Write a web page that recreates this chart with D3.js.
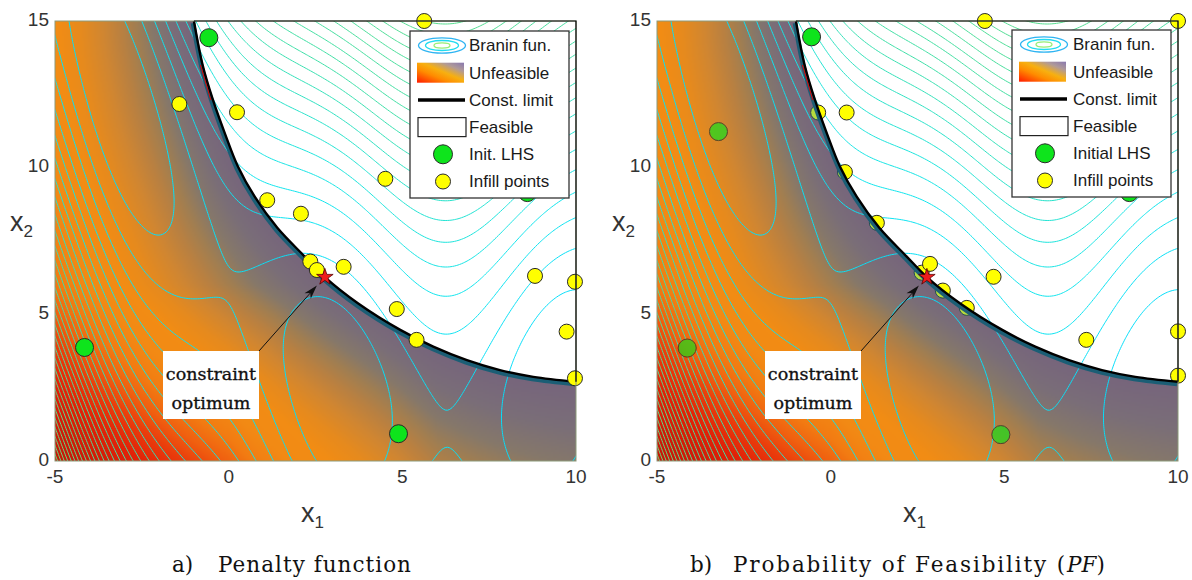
<!DOCTYPE html>
<html><head><meta charset="utf-8">
<script src="https://cdn.jsdelivr.net/npm/d3@7"></script>
<style>body{margin:0;background:#fff;} svg{display:block;}</style>
</head><body>
<svg id="chart" width="1192" height="580"></svg>
<script>
// ---------------- data ----------------
const xTickValues = [-5, 0, 5, 10];
const yTickValues = [0, 5, 10, 15];
const contourLevels = [10,20,30,40,50,60,70,80,90,100,110,120,130,140,150,160,170,180,190,200,210,220,230,240,250,260,270,280,290,300];
// constraint limit curve (x1, x2)
const constraintX1 = [-1.0, -0.75, -0.45, -0.11, 0.27, 0.75, 1.4, 2.19, 2.77, 3.72, 4.94, 5.89, 6.86, 7.81, 8.77, 10.0];
const constraintX2 = [15.0, 13.5, 12.3, 11.17, 10.03, 9.01, 7.95, 6.97, 6.27, 5.38, 4.47, 3.9, 3.44, 3.10, 2.87, 2.70];
const constrainedOptimum = [2.77, 6.27];
// panel a) Penalty function
const initA = [[-0.57, 14.43], [-4.15, 3.87], [4.89, 0.93], [8.6, 9.15]];
const infillA = [[5.63, 15.0], [-1.42, 12.17], [0.24, 11.89], [4.51, 9.62], [1.11, 8.89], [2.08, 8.43],
  [2.35, 6.80], [2.54, 6.51], [3.31, 6.62], [4.84, 5.18], [5.41, 4.13], [8.82, 6.31], [9.97, 6.11], [9.73, 4.41], [9.97, 2.82]];
// panel b) Probability of Feasibility
const initB = [[-0.55, 14.46], [-3.23, 11.23], [-4.13, 3.85], [4.9, 0.9], [8.6, 9.15]];
const infillB = [[4.44, 15.0], [10.0, 15.0], [-0.36, 11.88], [0.46, 11.88], [0.41, 9.85], [1.33, 8.12],
  [2.62, 6.42], [2.86, 6.72], [3.23, 5.81], [3.92, 5.22], [4.69, 6.28], [7.36, 4.13], [10.0, 4.42], [10.0, 2.91]];
const legendLabelsA = ["Branin fun.", "Unfeasible", "Const. limit", "Feasible", "Init. LHS", "Infill points"];
const legendLabelsB = ["Branin fun.", "Unfeasible", "Const. limit", "Feasible", "Initial LHS", "Infill points"];
const annotationLines = ["constraint", "optimum"];
const captionA = ["a)", "Penalty function"];
const captionB = ["b)", "Probability of Feasibility (", "PF", ")"];

// Branin function (the plotted objective)
function branin(x1, x2) {
  const b = 5.1 / (4 * Math.PI * Math.PI), c = 5 / Math.PI, r = 6, s = 10, t = 1 / (8 * Math.PI);
  const u = x2 - b * x1 * x1 + c * x1 - r;
  return u * u + s * (1 - t) * Math.cos(x1) + s;
}

// ---------------- layout / style ----------------
const svg = d3.select('#chart');
const defs = svg.append('defs');
const TOP = 21, BOTTOM = 461;
const panels = [
  {key: 'a', left: 55, right: 576, init: initA, infill: infillA, tinted: false, legendX: 410, legendY: 31, textDx: 59, labels: legendLabelsA},
  {key: 'b', left: 657, right: 1178, init: initB, infill: infillB, tinted: true, legendX: 1012, legendY: 30, textDx: 61, labels: legendLabelsB}
];
const shadeStops = [[0,'#76647c'],[0.6,'#7a6e78'],[1.1,'#86786a'],[1.5,'#a07e52'],[1.9,'#b88042'],[2.4,'#d08632'],
  [3.0,'#e68a1e'],[3.6,'#f28c14'],[4.4,'#f28a14'],[5.1,'#f27c12'],[5.7,'#f06010'],[6.3,'#ea3c0c'],[7.0,'#e22208'],[8.0,'#cc1808'],[9.5,'#b01406']];
const tintStops = [[0,'#1a90c0'],[0.6,'#3a98a8'],[1.1,'#86786a']].concat(shadeStops.slice(3));
const shadeScale = d3.scaleLinear().domain(shadeStops.map(s => s[0])).range(shadeStops.map(s => s[1])).clamp(true);
const tintScale = d3.scaleLinear().domain(tintStops.map(s => s[0])).range(tintStops.map(s => s[1])).clamp(true);
const contourColor = d3.scaleLinear().domain([0, 40, 120, 300]).range(['#00dcff', '#12e6ee', '#3ee0a8', '#70dc78']);
const GREEN = '#0ee41c', YELLOW = '#ffff00';

const constraintPts = constraintX1.map((x, i) => [x, constraintX2[i]]);

// Branin grid for contours (slightly extended beyond the domain, then clipped)
const g0x = -5.5, g0y = -0.5, gn = 241, gstep = 16 / (gn - 1);
const gridVals = new Float64Array(gn * gn);
for (let j = 0; j < gn; j++) for (let i = 0; i < gn; i++) gridVals[i + j * gn] = branin(g0x + i * gstep, g0y + j * gstep);
const contourSet = d3.contours().size([gn, gn]).thresholds(contourLevels)(gridVals);

// legend gradient
const lg = defs.append('linearGradient').attr('id', 'legGrad').attr('x1', 0).attr('y1', 1).attr('x2', 1).attr('y2', 0);
[[0,'#ff1a00'],[0.35,'#ff8c00'],[0.55,'#f7b010'],[0.78,'#b09a98'],[1,'#8878b0']].forEach(s => lg.append('stop').attr('offset', s[0]).attr('stop-color', s[1]));

let shadeURL = null, tintURL = null;

// shading of the unfeasible side: grows with the distance from the constraint limit
function buildShade(xs, ys, curveNode, left, w, h) {
  const len = curveNode.getTotalLength();
  const samples = [];
  for (let l = 0; l <= len; l += 2) {
    const p = curveNode.getPointAtLength(l);
    samples.push([xs.invert(p.x), ys.invert(p.y)]);
  }
  const cell = 2, cw = Math.ceil(w / cell), ch = Math.ceil(h / cell);
  const mk = (scale) => {
    const cv = document.createElement('canvas'); cv.width = cw; cv.height = ch;
    const ctx = cv.getContext('2d');
    return {cv, ctx, img: ctx.createImageData(cw, ch), scale};
  };
  const A = mk(shadeScale), B = mk(tintScale);
  const wy = 0.55;
  for (let j = 0; j < ch; j++) {
    const x2 = ys.invert(TOP + (j + 0.5) * cell);
    for (let i = 0; i < cw; i++) {
      const x1 = xs.invert(left + (i + 0.5) * cell);
      let best = 1e9;
      for (let k = 0; k < samples.length; k++) {
        const dx = x1 - samples[k][0], dy = (x2 - samples[k][1]) * wy;
        const dd = dx * dx + dy * dy;
        if (dd < best) best = dd;
      }
      const boost = 1.6 * Math.max(0, 1 - x2 / 6) * Math.min(1, Math.max(0, (6 - x1) / 6));
      const right = x1 > 5 ? 1 - 0.05 * (x1 - 5) : 1;
      const v = (Math.sqrt(best) * 0.92 + boost) * right;
      const idx = (i + j * cw) * 4;
      [A, B].forEach(o => {
        const c = d3.rgb(o.scale(v));
        o.img.data[idx] = c.r; o.img.data[idx + 1] = c.g; o.img.data[idx + 2] = c.b; o.img.data[idx + 3] = 255;
      });
    }
  }
  A.ctx.putImageData(A.img, 0, 0); B.ctx.putImageData(B.img, 0, 0);
  return [A.cv.toDataURL(), B.cv.toDataURL()];
}

function arrow(g, x1, y1, x2, y2) {
  const ang = Math.atan2(y2 - y1, x2 - x1);
  const L = 14, Wd = 4.2, N = 10;
  g.append('line').attr('x1', x1).attr('y1', y1)
    .attr('x2', x2 - N * Math.cos(ang)).attr('y2', y2 - N * Math.sin(ang))
    .attr('stroke', '#111').attr('stroke-width', 1);
  const pts = [[0, 0], [-L, -Wd], [-N, 0], [-L, Wd]].map(([u, v]) =>
    [x2 + u * Math.cos(ang) - v * Math.sin(ang), y2 + u * Math.sin(ang) + v * Math.cos(ang)]);
  g.append('path').attr('d', 'M' + pts.join('L') + 'Z').attr('fill', '#111');
}

panels.forEach(P => {
  const w = P.right - P.left, h = BOTTOM - TOP;
  const xs = d3.scaleLinear().domain([-5, 10]).range([P.left, P.right]);
  const ys = d3.scaleLinear().domain([0, 15]).range([BOTTOM, TOP]);
  const line = d3.line().x(d => xs(d[0])).y(d => ys(d[1])).curve(d3.curveCatmullRom.alpha(0.5));
  const curveD = line(constraintPts);
  const last = constraintPts[constraintPts.length - 1];
  const polyD = curveD + `L${xs(last[0])},${ys(0)}L${xs(-5)},${ys(0)}L${xs(-5)},${ys(15)}Z`;

  defs.append('clipPath').attr('id', 'unf-' + P.key).append('path').attr('d', polyD);
  defs.append('clipPath').attr('id', 'plot-' + P.key).append('rect')
    .attr('x', P.left).attr('y', TOP).attr('width', w).attr('height', h);

  const G = svg.append('g');
  const gShade = G.append('g');
  const gCont = G.append('g').attr('clip-path', `url(#plot-${P.key})`);
  const gPts1 = G.append('g');
  const gTint = G.append('g');
  const gCurve = G.append('g');
  const gPts2 = G.append('g');
  const gFrame = G.append('g');
  const gAnn = G.append('g');
  const gLeg = G.append('g');

  // constraint curve
  gCurve.append('path').attr('d', curveD).attr('fill', 'none').attr('stroke', '#1b5e75')
    .attr('stroke-width', 4.5).attr('transform', 'translate(-1,2.2)');
  const blackCurve = gCurve.append('path').attr('d', curveD).attr('fill', 'none')
    .attr('stroke', '#000').attr('stroke-width', 2.4);
  gCurve.append('path').attr('d', line(constraintPts.slice(1, 3))).attr('fill', 'none')
    .attr('stroke', '#e00000').attr('stroke-width', 1).attr('transform', 'translate(-2.2,0)');

  if (!shadeURL) { [shadeURL, tintURL] = buildShade(xs, ys, blackCurve.node(), P.left, w, h); }

  gShade.append('image').attr('href', shadeURL).attr('x', P.left).attr('y', TOP)
    .attr('width', w).attr('height', h).attr('preserveAspectRatio', 'none')
    .attr('clip-path', `url(#unf-${P.key})`);

  // contours of the Branin function
  const proj = d3.geoTransform({point: function (cx, cy) {
    this.stream.point(xs(g0x + (cx - 0.5) * gstep), ys(g0y + (cy - 0.5) * gstep));
  }});
  const cpath = d3.geoPath(proj);
  gCont.selectAll('path').data(contourSet).join('path')
    .attr('d', cpath).attr('fill', 'none')
    .attr('stroke', d => contourColor(d.value)).attr('stroke-width', 1);

  // points
  const ptsLayer = P.tinted ? gPts1 : gPts2;
  const allPts = P.init.map(p => ({p, r: 9, c: GREEN})).concat(P.infill.map(p => ({p, r: 7.5, c: YELLOW})));
  ptsLayer.selectAll('circle').data(allPts).join('circle')
    .attr('cx', d => xs(d.p[0])).attr('cy', d => ys(d.p[1])).attr('r', d => d.r)
    .attr('fill', d => d.c).attr('stroke', '#2a2a2a').attr('stroke-width', 1);

  if (P.tinted) {
    const cp = defs.append('clipPath').attr('id', 'tint-' + P.key);
    cp.selectAll('circle').data(allPts).join('circle')
      .attr('cx', d => xs(d.p[0])).attr('cy', d => ys(d.p[1])).attr('r', d => d.r + 0.5);
    gTint.attr('clip-path', `url(#tint-${P.key})`).append('image').attr('href', tintURL)
      .attr('x', P.left).attr('y', TOP).attr('width', w).attr('height', h)
      .attr('preserveAspectRatio', 'none').attr('opacity', 0.33)
      .attr('clip-path', `url(#unf-${P.key})`);
  }

  // star (constrained optimum)
  gPts2.append('path').attr('d', d3.symbol(d3.symbolStar, 85)())
    .attr('transform', `translate(${xs(constrainedOptimum[0])},${ys(constrainedOptimum[1])})`)
    .attr('fill', '#ee1c1c').attr('stroke', '#5a0000').attr('stroke-width', 0.8);

  // frame
  gFrame.append('rect').attr('x', P.left).attr('y', TOP).attr('width', w).attr('height', h)
    .attr('fill', 'none').attr('stroke', '#8c9a7a').attr('stroke-width', 1);
  gFrame.append('path')
    .attr('d', `M${xs(constraintPts[0][0])},${TOP}H${P.right}V${ys(last[1])}`)
    .attr('fill', 'none').attr('stroke', '#000').attr('stroke-width', 1.2);

  // tick labels
  const tickFont = {'font-family': 'Liberation Sans, Arial, sans-serif', 'font-size': '19px', fill: '#333'};
  xTickValues.forEach(v => {
    const t = G.append('text').attr('x', xs(v)).attr('y', 483).attr('text-anchor', 'middle').text(String(v));
    Object.entries(tickFont).forEach(([k, val]) => t.attr(k, val));
  });
  yTickValues.forEach(v => {
    const t = G.append('text').attr('x', P.left - 6).attr('y', ys(v) - 2).attr('dy', '0.35em')
      .attr('text-anchor', 'end').text(String(v));
    Object.entries(tickFont).forEach(([k, val]) => t.attr(k, val));
  });
  // axis titles
  const xt = G.append('text').attr('x', P.left + 246).attr('y', 522)
    .attr('font-family', 'Liberation Sans, Arial, sans-serif').attr('fill', '#333');
  xt.append('tspan').attr('font-size', '27px').text('x');
  xt.append('tspan').attr('font-size', '17px').attr('dy', 6).text('1');
  const yt = G.append('text').attr('x', P.left - 45).attr('y', 231)
    .attr('font-family', 'Liberation Sans, Arial, sans-serif').attr('fill', '#333');
  yt.append('tspan').attr('font-size', '27px').text('x');
  yt.append('tspan').attr('font-size', '17px').attr('dy', 6).text('2');

  // annotation
  const bx = P.left + 108, by = 351, bw = 96, bh = 68;
  gAnn.append('rect').attr('x', bx).attr('y', by).attr('width', bw).attr('height', bh).attr('fill', '#fff');
  annotationLines.forEach((s, i) => {
    gAnn.append('text').attr('x', bx + bw / 2).attr('y', 380 + i * 28.5).attr('text-anchor', 'middle')
      .attr('font-family', 'DejaVu Serif, serif').attr('font-size', '17.5px').attr('fill', '#111')
      .attr('stroke', '#111').attr('stroke-width', 0.35).text(s);
  });
  arrow(gAnn, bx + bw, by, xs(constrainedOptimum[0]) - 8, ys(constrainedOptimum[1]) + 8.5);

  // legend
  const LX = P.legendX, LY = P.legendY, LW = 159, LH = 167;
  gLeg.append('rect').attr('x', LX).attr('y', LY).attr('width', LW).attr('height', LH)
    .attr('fill', '#fff').attr('stroke', '#333').attr('stroke-width', 1.3);
  const rowY = k => LY + 14.5 + k * 27.2;
  [[23.5, 7.7, '#2eb4f2'], [16.5, 5, '#22dcf0'], [8, 2.6, '#98ee78']].forEach(e => {
    gLeg.append('ellipse').attr('cx', LX + 32).attr('cy', rowY(0)).attr('rx', e[0]).attr('ry', e[1])
      .attr('fill', 'none').attr('stroke', e[2]).attr('stroke-width', 1.3);
  });
  gLeg.append('rect').attr('x', LX + 7).attr('y', rowY(1) - 10).attr('width', 47).attr('height', 20).attr('fill', 'url(#legGrad)');
  gLeg.append('line').attr('x1', LX + 8).attr('x2', LX + 55).attr('y1', rowY(2)).attr('y2', rowY(2))
    .attr('stroke', '#000').attr('stroke-width', 3.5);
  gLeg.append('rect').attr('x', LX + 8).attr('y', rowY(3) - 9.5).attr('width', 48).attr('height', 19)
    .attr('fill', '#fff').attr('stroke', '#222').attr('stroke-width', 1.2);
  gLeg.append('circle').attr('cx', LX + 33).attr('cy', rowY(4)).attr('r', 9.5).attr('fill', GREEN).attr('stroke', '#2a2a2a');
  gLeg.append('circle').attr('cx', LX + 33).attr('cy', rowY(5)).attr('r', 7.5).attr('fill', YELLOW).attr('stroke', '#2a2a2a');
  P.labels.forEach((s, k) => {
    gLeg.append('text').attr('x', LX + P.textDx).attr('y', rowY(k)).attr('dy', '0.35em')
      .attr('font-family', 'Liberation Sans, Arial, sans-serif').attr('font-size', '17px').attr('fill', '#1a1a1a').text(s);
  });
});

// captions
function fitText(sel, target) {
  const n = sel.text().length;
  const nat = sel.node().getComputedTextLength();
  sel.attr('letter-spacing', ((target - nat) / n).toFixed(3));
  return sel;
}
const capFont = sel => sel.attr('font-family', 'DejaVu Serif, serif').attr('font-size', '21.5px').attr('fill', '#111');
capFont(svg.append('text').attr('x', 172).attr('y', 572).text(captionA[0]));
fitText(capFont(svg.append('text').attr('x', 218).attr('y', 572).text(captionA[1])), 194);
capFont(svg.append('text').attr('x', 690).attr('y', 572).text(captionB[0]));
const cb1 = fitText(capFont(svg.append('text').attr('x', 733).attr('y', 572).text(captionB[1])), 334);
const cb2 = capFont(svg.append('text').attr('x', 733 + 334).attr('y', 572));
cb2.append('tspan').attr('font-style', 'italic').text(captionB[2]);
cb2.append('tspan').text(captionB[3]);
</script>
</body></html>
